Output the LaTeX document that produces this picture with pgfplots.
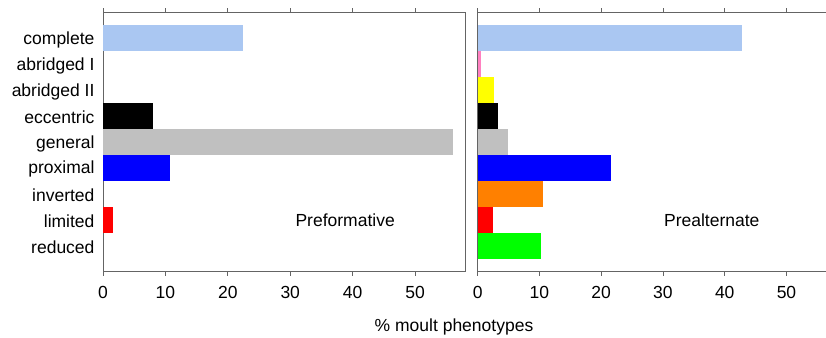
\documentclass[border=0pt]{standalone}
\usepackage{pgfplots}
\pgfplotsset{compat=1.18}
\usepackage{fontspec}
\setmainfont{Liberation Sans}
\definecolor{cComplete}{RGB}{170,199,242}
\definecolor{cAbrI}{RGB}{255,128,192}
\definecolor{cAbrII}{RGB}{255,255,0}
\definecolor{cGen}{RGB}{192,192,192}
\definecolor{cProx}{RGB}{0,0,255}
\definecolor{cInv}{RGB}{255,128,0}
\definecolor{cLim}{RGB}{255,0,0}
\definecolor{cRed}{RGB}{0,255,0}
\definecolor{axgray}{RGB}{100,100,100}
\newcommand{\lbl}{\fontsize{17.5}{20}\selectfont}
\pgfplotsset{
  panel/.style={
    scale only axis, anchor=south west,
    height=259.4pt,
    xbar, bar width=1, bar shift=0pt,
    ymin=0, ymax=10, xmin=0,
    xtick={0,10,20,30,40,50},
    ytick={1,...,9},
    major tick length=4pt,
    xtick align=outside,
    ytick style={draw=none},
    xtick style={axgray, line width=0.8pt},
    axis line style={axgray, line width=0.9pt},
    tick label style={font=\lbl},
    /pgf/number format/assume math mode=true,
    every x tick label/.append style={yshift=-7pt},
    every axis plot/.append style={draw=none},
    clip=false,
  }
}
\begin{document}
\begin{tikzpicture}
\useasboundingbox (0,0) rectangle (826pt,337pt);
\begin{axis}[panel, at={(103pt,65.3pt)}, width=362pt, xmax=58,
  yticklabels={reduced,limited,inverted,proximal,general,eccentric,abridged II,abridged I,complete},
  every y tick label/.append style={xshift=-1pt, yshift=-1.5pt}]
\addplot[fill=cComplete] coordinates {(22.5,9)};
\addplot[fill=black] coordinates {(8.07,6)};
\addplot[fill=cGen] coordinates {(56.0,5)};
\addplot[fill=cProx] coordinates {(10.7,4)};
\addplot[fill=cLim] coordinates {(1.65,2)};
\node[font=\lbl] at (axis cs:38.8,2) {Preformative};
\end{axis}
\begin{axis}[panel, at={(477.7pt,65.3pt)}, width=348.3pt, xmax=56.4,
  yticklabels={}]
\addplot[fill=cComplete] coordinates {(42.8,9)};
\addplot[fill=cAbrI] coordinates {(0.6,8)};
\addplot[fill=cAbrII] coordinates {(2.6,7)};
\addplot[fill=black] coordinates {(3.3,6)};
\addplot[fill=cGen] coordinates {(4.95,5)};
\addplot[fill=cProx] coordinates {(21.6,4)};
\addplot[fill=cInv] coordinates {(10.6,3)};
\addplot[fill=cLim] coordinates {(2.4,2)};
\addplot[fill=cRed] coordinates {(10.3,1)};
\node[font=\lbl] at (axis cs:37.9,2) {Prealternate};
\end{axis}
\node[font=\lbl] at (454pt,10pt) {\% moult phenotypes};
\end{tikzpicture}
\end{document}
